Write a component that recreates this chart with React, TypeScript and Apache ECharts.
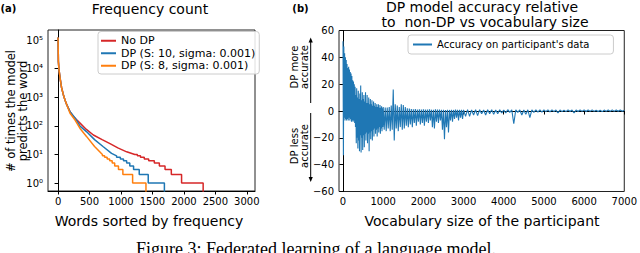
import React, { useEffect, useRef } from "react";
import * as echarts from "echarts";

// ---- Panel (a): frequency count (words sorted by frequency) ----
const redX = [0, 3, 5, 15, 32, 55, 84, 110, 138, 190, 243, 349, 450, 561, 700, 825, 950, 1090, 1220, 1260, 1260, 1310, 1310, 1370, 1370, 1440, 1440, 1530, 1530, 1610, 1610, 1700, 1700, 1800, 1800, 1963, 1963, 2306, 2306];
const redY = [123000, 40000, 17800, 9000, 4700, 2200, 1230, 800, 550, 316, 214, 125, 75, 48, 33, 24, 17, 12.4, 10, 10, 9, 9, 8, 8, 7, 7, 6, 6, 5, 5, 4, 4, 3, 3, 2, 2, 1, 1, 0.2];
const blueX = [0, 3, 5, 15, 32, 55, 84, 110, 138, 190, 270, 349, 455, 580, 719, 850, 930, 930, 990, 990, 1040, 1040, 1090, 1090, 1140, 1140, 1200, 1200, 1290, 1290, 1433, 1433, 1690, 1690];
const blueY = [123000, 40000, 17800, 9000, 4700, 2200, 1230, 800, 550, 310, 190, 98, 62, 33, 18.6, 11, 9, 8, 8, 7, 7, 6, 6, 5, 5, 4, 4, 3, 3, 2, 2, 1, 1, 0.2];
const orangeX = [0, 3, 5, 15, 32, 55, 84, 110, 138, 190, 270, 349, 455, 580, 705, 705, 740, 740, 780, 780, 820, 820, 860, 860, 900, 900, 960, 960, 1030, 1030, 1185, 1185, 1397, 1397];
const orangeY = [123000, 40000, 17800, 9000, 4700, 2200, 1230, 800, 550, 275, 160, 81, 42, 19, 10, 9, 9, 8, 8, 7, 7, 6, 6, 5, 5, 4, 4, 3, 3, 2, 2, 1, 1, 0.2];
const leftXTicks = [0, 500, 1000, 1500, 2000, 2500, 3000];
const seriesNames = ["No DP", "DP (S: 10, sigma: 0.001)", "DP (S: 8, sigma: 0.001)"];

// ---- Panel (b): accuracy vs vocabulary size (alternating high / low reading per sample) ----
const accSegStart = [0, 1000, 3000];
const accSegStep = [20, 50, 100];
const accHiA = [52, 48, 43, 40, 38, 35, 32, 33, 31, 29, 28, 26, 23, 22, 20, 18, 12, 17, 10, 15, 9, 13, 19, 8, 14, 9, 12, 7, 14, 6, 12, 6, 10, 5, 9, 5, 8, 4, 7, 4, 6, 3, 5, 3, 5, 2.5, 4.5, 2.5, 3.5, 2];
const accLoA = [-33, -5, -7, -6, -7, -6, -7, -5, -7, -6, -8, -7, -8, -7, -9, -12, -24, -20, -28, -22, -30, -18, -31, -20, -29, -18, -27, -17, -22, -16, -24, -17, -30, -16, -21, -15, -22, -14, -19, -13, -17, -14, -19, -13, -16, -12, -17, -13, -15, -12];
const accHiB = [3, 2.5, 2.5, 3, 4, 16, 5, 4, 3, 5, 4.5, 3, 2, 1.8, 1.5, 1.2, 1.5, 1, 1.2, 1, 1.2, 1, 1, 1.2, 1, 1, 1.2, 1, 1, 0.9, 1, 0.8, 1, 0.8, 0.9, 0.8, 1, 0.8, 0.9, 0.8];
const accLoB = [-14, -15, -13, -15, -14, -22, -13, -15, -12, -14, -13, -11, -12, -10, -12, -9, -11, -8, -10, -9, -11, -8, -9, -7, -12, -13, -8, -9, -7, -14, -21, -12, -16, -7, -8, -6, -5, -7, -5, -6];
const accHiC = [0.8, 1, 0.8, 0.9, 1, 0.8, 0.9, 1, 0.8, 0.9, 0.8, 1, 0.8, 0.9, 0.8, 0.8, 0.9, 0.8, 0.8, 0.9, 0.8, 0.8, 0.9, 0.8, 0.8, 0.7, 0.8, 0.7, 0.8, 0.7, 0.8, 0.7, 0.8, 0.6, 0.6, 0.7, 0.7, 0.8, 0.8, 0.8];
const accLoC = [-4, -4, -3, -3.5, -2, -3, -2, -2.5, -2, -1.5, -1.5, -1, -9.5, -1, -3, -2.5, -5, -1, -0.8, -0.8, -0.5, -0.6, -0.5, -1.5, -0.5, -0.5, -0.4, -1.5, -0.4, -0.3, -0.4, -0.3, -0.3, -0.4, -0.5, -0.3, -0.3, -0.3, -0.2, -0.2];
const accEnd = [7000, 0.5];
const rightXTicks = [0, 1000, 2000, 3000, 4000, 5000, 6000, 7000];
const accName = "Accuracy on participant's data";

const FONT = "DejaVu Sans";
const RED = "#d62728";
const BLUE = "#1f77b4";
const ORANGE = "#ff7f0e";
const SUP = ["\u2070", "\u00b9", "\u00b2", "\u00b3", "\u2074", "\u2075", "\u2076"];

function zip(xs: number[], ys: number[]) {
  return xs.map((x, i) => [x, ys[i]]);
}

function buildAcc() {
  const his = [accHiA, accHiB, accHiC];
  const los = [accLoA, accLoB, accLoC];
  const out: number[][] = [];
  for (let s = 0; s < 3; s++) {
    const st = accSegStep[s];
    for (let i = 0; i < his[s].length; i++) {
      const x = accSegStart[s] + i * st;
      out.push([x, his[s][i]]);
      out.push([x + st / 2, los[s][i]]);
    }
  }
  out.push(accEnd);
  return out;
}

export default function App() {
  const ref = useRef<HTMLDivElement>(null);
  useEffect(() => {
    if (!ref.current) return;
    const chart = echarts.init(ref.current, undefined, { renderer: "svg" });
    const axisCommon = {
      axisLine: { show: true, lineStyle: { color: "#000", width: 1 } },
      axisTick: { show: true, length: 3.5, lineStyle: { color: "#000", width: 1 } },
      splitLine: { show: false },
    };
    const tickFont = { fontFamily: FONT, fontSize: 10, color: "#000" };
    const plain = (v: number) => String(v);
    const textStyle = (size: number, extra: any = {}) => ({
      fontFamily: FONT,
      fontSize: size,
      fill: "#000",
      ...extra,
    });
    chart.setOption({
      animation: false,
      backgroundColor: "#fff",
      grid: [
        { left: 48, top: 30, width: 207, height: 161, show: true, borderColor: "#222", borderWidth: 1, backgroundColor: "transparent" },
        { left: 339, top: 30.5, width: 288, height: 161, show: true, borderColor: "#222", borderWidth: 1, backgroundColor: "transparent" },
      ],
      xAxis: [
        {
          gridIndex: 0,
          type: "value",
          min: -160,
          max: 3130,
          ...axisCommon,
          axisTick: { ...axisCommon.axisTick, customValues: leftXTicks },
          axisLabel: { ...tickFont, margin: 5, customValues: leftXTicks, formatter: plain },
        },
        {
          gridIndex: 1,
          type: "value",
          min: -100,
          max: 7000,
          ...axisCommon,
          axisTick: { ...axisCommon.axisTick, customValues: rightXTicks },
          axisLabel: { ...tickFont, margin: 5, customValues: rightXTicks, formatter: plain },
        },
      ],
      yAxis: [
        {
          gridIndex: 0,
          type: "log",
          logBase: 10,
          min: 0.53,
          max: 224000,
          ...axisCommon,
          axisLabel: {
            ...tickFont,
            margin: 5,
            showMinLabel: false,
            showMaxLabel: false,
            formatter: (v: number) => {
              const e = Math.log10(v);
              const r = Math.round(e);
              if (Math.abs(e - r) > 1e-6 || r < 0) return "";
              return "10" + SUP[r];
            },
          },
        },
        {
          gridIndex: 1,
          type: "value",
          min: -60,
          max: 60,
          interval: 20,
          ...axisCommon,
          axisLabel: {
            ...tickFont,
            margin: 5,
            formatter: (v: number) => (v < 0 ? "\u2212" + Math.abs(v) : String(v)),
          },
        },
      ],
      legend: [
        {
          data: seriesNames,
          orient: "vertical",
          left: 98,
          top: 31.5,
          padding: [3, 4, 2, 3],
          itemGap: 0,
          itemWidth: 15,
          itemHeight: 2,
          icon: "rect",
          borderColor: "#ccc",
          borderWidth: 1,
          borderRadius: 3,
          backgroundColor: "rgba(255,255,255,0.85)",
          textStyle: { fontFamily: FONT, fontSize: 11, color: "#000", lineHeight: 12.5 },
        },
        {
          data: [accName],
          orient: "vertical",
          left: 408,
          top: 35,
          padding: [4, 24, 4, 5],
          itemWidth: 19,
          itemHeight: 2,
          icon: "rect",
          borderColor: "#ccc",
          borderWidth: 1,
          borderRadius: 3,
          backgroundColor: "rgba(255,255,255,0.85)",
          textStyle: { fontFamily: FONT, fontSize: 10, color: "#000", lineHeight: 11 },
        },
      ],
      series: [
        { name: seriesNames[0], type: "line", xAxisIndex: 0, yAxisIndex: 0, data: zip(redX, redY), showSymbol: false, symbol: "none", color: RED, lineStyle: { width: 1.5, color: RED }, clip: true },
        { name: seriesNames[1], type: "line", xAxisIndex: 0, yAxisIndex: 0, data: zip(blueX, blueY), showSymbol: false, symbol: "none", color: BLUE, lineStyle: { width: 1.5, color: BLUE }, clip: true },
        { name: seriesNames[2], type: "line", xAxisIndex: 0, yAxisIndex: 0, data: zip(orangeX, orangeY), showSymbol: false, symbol: "none", color: ORANGE, lineStyle: { width: 1.5, color: ORANGE }, clip: true },
        { name: accName, type: "line", xAxisIndex: 1, yAxisIndex: 1, data: buildAcc(), showSymbol: false, symbol: "none", color: BLUE, lineStyle: { width: 1.1, color: BLUE }, clip: true },
      ],
      graphic: [
        { type: "text", x: 0.5, y: 8.5, style: { ...textStyle(10, { fontWeight: "bold" }), text: "(a)", align: "left", verticalAlign: "middle" } },
        { type: "text", x: 300.5, y: 8, style: { ...textStyle(10, { fontWeight: "bold" }), text: "(b)", align: "center", verticalAlign: "middle" } },
        { type: "text", x: 150, y: 9, style: { ...textStyle(14), text: "Frequency count", align: "center", verticalAlign: "middle" } },
        { type: "text", x: 482, y: 7, style: { ...textStyle(14), text: "DP model accuracy relative", align: "center", verticalAlign: "middle" } },
        { type: "text", x: 485, y: 21.5, style: { ...textStyle(14), text: "to  non-DP vs vocabulary size", align: "center", verticalAlign: "middle" } },
        { type: "text", x: 149, y: 221, style: { ...textStyle(14), text: "Words sorted by frequency", align: "center", verticalAlign: "middle" } },
        { type: "text", x: 482, y: 221, style: { ...textStyle(14), text: "Vocabulary size of the participant", align: "center", verticalAlign: "middle" } },
        { type: "text", x: 16.5, y: 111, rotation: Math.PI / 2, style: { ...textStyle(11.5), text: "# of times the model\npredicts the word", align: "center", verticalAlign: "middle", lineHeight: 12 } },
        { type: "text", x: 299.5, y: 67, rotation: Math.PI / 2, style: { ...textStyle(10), text: "DP more\naccurate", align: "center", verticalAlign: "middle", lineHeight: 10 } },
        { type: "text", x: 299.5, y: 146, rotation: Math.PI / 2, style: { ...textStyle(10), text: "DP less\naccurate", align: "center", verticalAlign: "middle", lineHeight: 10 } },
        { type: "line", shape: { x1: 310.7, y1: 41, x2: 310.7, y2: 103 }, style: { stroke: "#000", lineWidth: 1 } },
        { type: "polygon", shape: { points: [[310.7, 37.5], [308.6, 42.5], [312.8, 42.5]] }, style: { fill: "#000" } },
        { type: "line", shape: { x1: 310.7, y1: 113, x2: 310.7, y2: 178.5 }, style: { stroke: "#000", lineWidth: 1 } },
        { type: "polygon", shape: { points: [[310.7, 182], [308.6, 177], [312.8, 177]] }, style: { fill: "#000" } },
        { type: "text", x: 316, y: 240, style: { fontFamily: "Liberation Serif", fontSize: 18, fill: "#000", text: "Figure 3: Federated learning of a language model.", align: "center", verticalAlign: "top" } },
      ],
    });
    return () => chart.dispose();
  }, []);
  return <div ref={ref} style={{ position: "absolute", left: 0, top: 0, width: 640, height: 253 }} />;
}
